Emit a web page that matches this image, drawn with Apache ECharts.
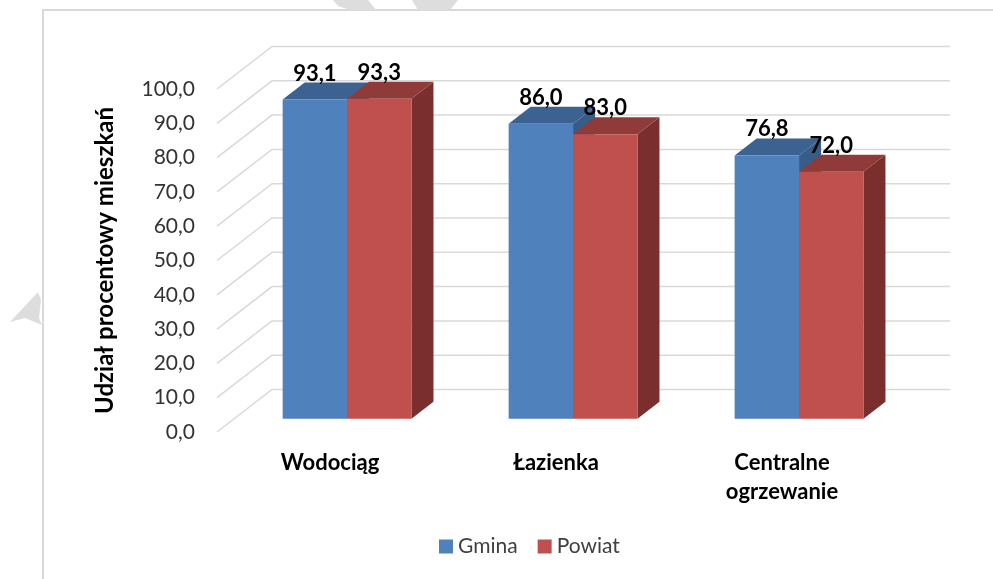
<!DOCTYPE html>
<html>
<head>
<meta charset="utf-8">
<script src="https://cdn.jsdelivr.net/npm/echarts@6/dist/echarts.min.js"></script>
<style>
html,body{margin:0;padding:0;background:#fff;}
#chart{width:993px;height:579px;}
</style>
</head>
<body>
<div id="chart"></div>
<script>
const categories = ['Wodociąg', 'Łazienka', 'Centralne\nogrzewanie'];
const gmina = [93.1, 86.0, 76.8];
const powiat = [93.3, 83.0, 72.0];
const yTicks = [0, 10, 20, 30, 40, 50, 60, 70, 80, 90, 100];

const FONT = 'Lato, "Open Sans", sans-serif';
const DX = 55, DY = -42.5;      // full depth vector (front plane -> back wall)
const T1 = 0.31, T2 = 0.71;     // bar depth range
const BW = 0.285;               // bar width as fraction of category band

const colors = {
  Gmina: { front: '#4F81BD', top: '#3C6291', side: '#385C88' },
  Powiat: { front: '#C0504D', top: '#8F3B39', side: '#7A2F2E' }
};

function fmt(v) { return v.toFixed(1).replace('.', ','); }

function gridRender(params, api) {
  const v = api.value(1);
  const p = api.coord([0, v]);
  const cs = params.coordSys;
  const x0 = cs.x, x1 = cs.x + cs.width;
  return {
    type: 'polyline',
    shape: { points: [[x0, p[1]], [x0 + DX, p[1] + DY], [x1 + DX, p[1] + DY]] },
    style: { stroke: '#D9D9D9', lineWidth: 1.5, fill: null }
  };
}

function barRender(name, side) {
  return function (params, api) {
    const idx = api.value(0), val = api.value(1);
    const top = api.coord([idx, val]);
    const base = api.coord([idx, 0]);
    const band = api.size([1, 0])[0];
    const bw = band * BW;
    const left = side === 0 ? top[0] - bw : top[0];
    const x0 = left + T1 * DX, x1 = x0 + bw;
    const yt = top[1] + T1 * DY, yb = base[1] + T1 * DY;
    const dx = (T2 - T1) * DX, dy = (T2 - T1) * DY;
    const c = colors[name];
    return {
      type: 'group',
      children: [
        { type: 'polygon', shape: { points: [[x1, yt], [x1 + dx, yt + dy], [x1 + dx, yb + dy], [x1, yb]] }, style: { fill: c.side } },
        { type: 'polygon', shape: { points: [[x0, yt], [x1, yt], [x1 + dx, yt + dy], [x0 + dx, yt + dy]] }, style: { fill: c.top } },
        { type: 'rect', shape: { x: x0, y: yt, width: bw, height: yb - yt }, style: { fill: c.front } },
        { type: 'text', x: (x0 + x1) / 2, y: yt + dy - 9,
          style: { text: fmt(val), fill: '#000', font: 'bold 22px ' + FONT, align: 'center', verticalAlign: 'middle' } }
      ]
    };
  };
}

const chart = echarts.init(document.getElementById('chart'));
chart.setOption({
  animation: false,
  backgroundColor: '#fff',
  graphic: [
    { type: 'rect', shape: { x: 43, y: 10, width: 1000, height: 600 }, style: { fill: null, stroke: '#D9D9D9', lineWidth: 2 }, z: -10 },
    { type: 'polygon', shape: { points: [[333, 0], [368, 0], [376, 10], [350, 10], [338, 6]] }, style: { fill: '#DDDDDD' }, z: -5 },
    { type: 'polygon', shape: { points: [[412, 0], [458, 0], [450, 10], [418, 10]] }, style: { fill: '#DDDDDD' }, z: -5 },
    { type: 'polygon', shape: { points: [[10, 322], [38, 292], [41, 300], [39, 318], [42, 325], [25, 318]] }, style: { fill: '#DDDDDD' }, z: -5 }
  ],
  grid: { left: 217, right: 98, top: 89, bottom: 147 },
  legend: {
    data: ['Gmina', 'Powiat'],
    bottom: 17,
    left: 434,
    icon: 'rect',
    itemWidth: 14,
    itemHeight: 14,
    itemGap: 20,
    itemTextGap: 6,
    textStyle: { fontFamily: FONT, fontSize: 21, color: '#404040' }
  },
  xAxis: {
    type: 'category',
    data: categories,
    axisLine: { show: false },
    axisTick: { show: false },
    splitLine: { show: false },
    axisLabel: { interval: 0, margin: 16, fontFamily: FONT, fontWeight: 'bold', fontSize: 22, lineHeight: 29, color: '#000' }
  },
  yAxis: {
    type: 'value',
    min: 0, max: 100, interval: 10,
    name: 'Udział procentowy mieszkań',
    nameLocation: 'middle',
    nameRotate: 90,
    nameGap: 100,
    nameTextStyle: { fontFamily: FONT, fontWeight: 'bold', fontSize: 24, color: '#000' },
    axisLine: { show: false },
    axisTick: { show: false },
    splitLine: { show: false },
    axisLabel: { margin: 22, fontFamily: FONT, fontSize: 21, color: '#333', formatter: fmt }
  },
  series: [
    { type: 'custom', name: 'grid3d', silent: true, renderItem: gridRender, data: yTicks.map(v => [0, v]), z: 1 },
    { type: 'custom', name: 'Gmina', itemStyle: { color: colors.Gmina.front }, renderItem: barRender('Gmina', 0), data: gmina.map((v, i) => [i, v]), z: 2 },
    { type: 'custom', name: 'Powiat', itemStyle: { color: colors.Powiat.front }, renderItem: barRender('Powiat', 1), data: powiat.map((v, i) => [i, v]), z: 3 }
  ]
});
</script>
</body>
</html>
